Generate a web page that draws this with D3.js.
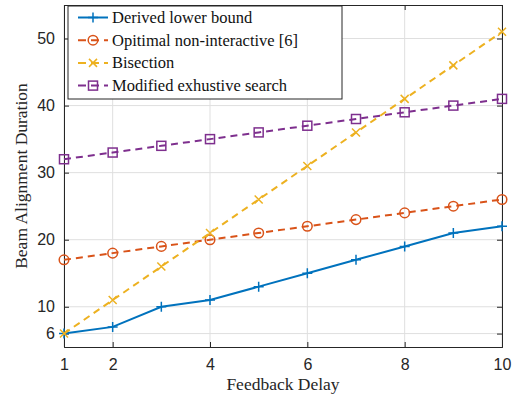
<!DOCTYPE html>
<html>
<head>
<meta charset="utf-8">
<script src="https://cdn.jsdelivr.net/npm/d3@7"></script>
<style>
  body { margin: 0; background: #fff; }
  svg { display: block; }
</style>
</head>
<body>
<div id="chart"></div>
<script>
// data
var delays = [1, 2, 3, 4, 5, 6, 7, 8, 9, 10];
var lowerBound = [6, 7, 10, 11, 13, 15, 17, 19, 21, 22];
var nonInteractive = [17, 18, 19, 20, 21, 22, 23, 24, 25, 26];
var bisection = [6, 11, 16, 21, 26, 31, 36, 41, 46, 51];
var exhaustive = [32, 33, 34, 35, 36, 37, 38, 39, 40, 41];
var xTicks = [1, 2, 4, 6, 8, 10];
var yTicks = [6, 10, 20, 30, 40, 50];
var seriesNames = ["Derived lower bound", "Opitimal non-interactive [6]", "Bisection", "Modified exhustive search"];

var W = 527, H = 403;
var margin = {left: 64, right: 25, top: 5, bottom: 56};
var innerW = W - margin.left - margin.right;
var innerH = H - margin.top - margin.bottom;
var serif = "'Liberation Serif'";
var sans = "'Liberation Sans'";

var svg = d3.select("#chart").append("svg")
    .attr("width", W)
    .attr("height", H);

var x = d3.scaleLinear().domain([1, 10]).range([0, innerW]);
var y = d3.scaleLinear().domain([4, 55]).range([innerH, 0]);

var g = svg.append("g").attr("transform", "translate(" + margin.left + "," + margin.top + ")");

//grid
g.append("g").selectAll("line").data(xTicks).enter().append("line")
    .attr("x1", function(d){ return x(d); }).attr("x2", function(d){ return x(d); })
    .attr("y1", 0).attr("y2", innerH)
    .attr("stroke", "#dfdfdf").attr("stroke-width", 1);
g.append("g").selectAll("line").data(yTicks).enter().append("line")
    .attr("y1", function(d){ return y(d); }).attr("y2", function(d){ return y(d); })
    .attr("x1", 0).attr("x2", innerW)
    .attr("stroke", "#dfdfdf").attr("stroke-width", 1);

//axes with inward ticks
var xAxis = g.append("g").attr("transform", "translate(0," + innerH + ")")
    .call(d3.axisBottom(x).tickValues(xTicks).tickSize(-5).tickPadding(12).tickFormat(d3.format("d")));
var xAxisTop = g.append("g")
    .call(d3.axisTop(x).tickValues(xTicks).tickSize(-5).tickFormat(""));
var yAxis = g.append("g")
    .call(d3.axisLeft(y).tickValues(yTicks).tickSize(-5).tickPadding(9).tickFormat(d3.format("d")));
var yAxisRight = g.append("g").attr("transform", "translate(" + innerW + ",0)")
    .call(d3.axisRight(y).tickValues(yTicks).tickSize(-5).tickFormat(""));

[xAxis, xAxisTop, yAxis, yAxisRight].forEach(function(a){
    a.select(".domain").attr("stroke", "#262626").attr("stroke-width", 1);
    a.selectAll(".tick line").attr("stroke", "#262626");
    a.selectAll("text").attr("fill", "#262626")
        .style("font-family", sans).style("font-size", "16px");
});

//series
var series = [
    {name: seriesNames[0], values: lowerBound, color: "#0072BD", dash: null, marker: "plus"},
    {name: seriesNames[1], values: nonInteractive, color: "#D95319", dash: "7,5", marker: "circle"},
    {name: seriesNames[2], values: bisection, color: "#EDB120", dash: "7,5", marker: "cross"},
    {name: seriesNames[3], values: exhaustive, color: "#7E2F8E", dash: "7,5", marker: "square"}
];

var line = d3.line()
    .x(function(d, i){ return x(delays[i]); })
    .y(function(d){ return y(d); });

function drawMarker(sel, type, color){
    var s = 5;
    if(type === "plus"){
        sel.append("path").attr("d", "M" + (-s) + ",0H" + s + "M0," + (-s) + "V" + s)
            .attr("stroke", color).attr("stroke-width", 1.5).attr("fill", "none");
    } else if(type === "cross"){
        var c = 4;
        sel.append("path").attr("d", "M" + (-c) + "," + (-c) + "L" + c + "," + c + "M" + (-c) + "," + c + "L" + c + "," + (-c))
            .attr("stroke", color).attr("stroke-width", 1.5).attr("fill", "none");
    } else if(type === "circle"){
        sel.append("circle").attr("r", 4.8)
            .attr("stroke", color).attr("stroke-width", 1.5).attr("fill", "none");
    } else if(type === "square"){
        sel.append("rect").attr("x", -4.5).attr("y", -4.5).attr("width", 9).attr("height", 9)
            .attr("stroke", color).attr("stroke-width", 1.5).attr("fill", "none");
    }
}

series.forEach(function(s){
    g.append("path").datum(s.values)
        .attr("d", line)
        .attr("fill", "none")
        .attr("stroke", s.color)
        .attr("stroke-width", 2)
        .attr("stroke-dasharray", s.dash);
    s.values.forEach(function(v, i){
        var m = g.append("g").attr("transform", "translate(" + x(delays[i]) + "," + y(v) + ")");
        drawMarker(m, s.marker, s.color);
    });
});

//legend
var legend = svg.append("g").attr("transform", "translate(68,6)");
legend.append("rect").attr("width", 274).attr("height", 93)
    .attr("fill", "#fff").attr("stroke", "#262626").attr("stroke-width", 1);
series.forEach(function(s, i){
    var ly = 11.5 + i * 22.7;
    var item = legend.append("g").attr("transform", "translate(0," + ly + ")");
    item.append("line").attr("x1", 10).attr("x2", 40).attr("y1", 0).attr("y2", 0)
        .attr("stroke", s.color).attr("stroke-width", 2)
        .attr("stroke-dasharray", s.dash ? "8,5" : null);
    var m = item.append("g").attr("transform", "translate(25,0)");
    drawMarker(m, s.marker, s.color);
    item.append("text").attr("x", 44).attr("y", 5.5)
        .style("font-family", serif).style("font-size", "16.5px").attr("fill", "#111")
        .text(s.name);
});

//axis labels
svg.append("text")
    .attr("x", margin.left + innerW / 2).attr("y", 390)
    .attr("text-anchor", "middle")
    .style("font-family", serif).style("font-size", "17.5px").attr("fill", "#262626")
    .text("Feedback Delay");
svg.append("text")
    .attr("transform", "translate(27," + (margin.top + innerH / 2) + ") rotate(-90)")
    .attr("text-anchor", "middle")
    .style("font-family", serif).style("font-size", "17.5px").attr("fill", "#262626")
    .text("Beam Alignment Duration");
</script>
</body>
</html>
